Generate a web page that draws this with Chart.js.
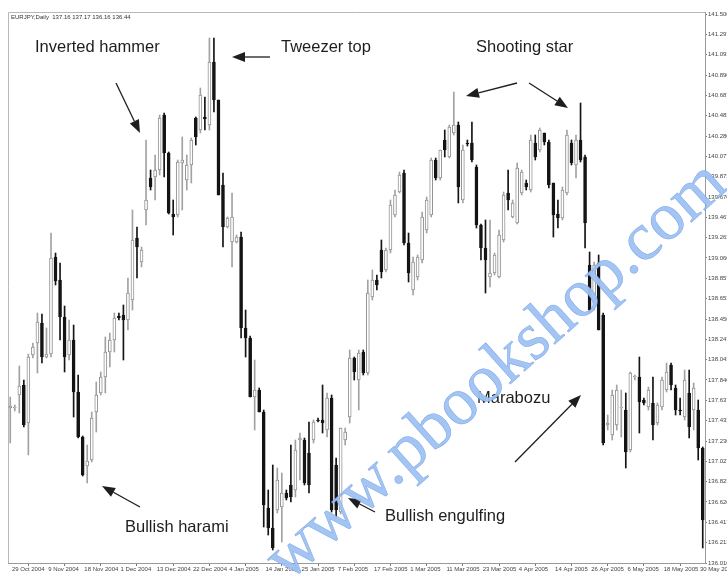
<!DOCTYPE html>
<html>
<head>
<meta charset="utf-8">
<script src="https://cdn.jsdelivr.net/npm/chart.js@4.4.1/dist/chart.umd.min.js"></script>
<style>
  html, body { margin: 0; padding: 0; background: #ffffff; }
  #wrap { width: 727px; height: 575px; position: relative; }
</style>
</head>
<body>
<div id="wrap"><canvas id="c" width="727" height="575"></canvas></div>
<script>
// EURJPY daily candles, 29 Oct 2004 - early June 2005
const symbolName = 'EURJPY,Daily';

const opens = [
  137.56,137.56,137.69,137.79,137.41,138.09,138.21,138.41,138.07,138.10,
  139.07,138.84,138.47,138.09,138.24,137.72,137.27,136.98,137.04,137.52,
  137.71,137.87,138.12,138.24,138.48,138.49,138.44,138.64,139.26,139.02,
  139.54,139.86,139.87,139.94,140.49,140.11,139.50,139.49,140.01,139.84,
  139.99,140.46,140.34,140.47,140.39,141.02,140.64,139.79,139.37,139.22,
  139.22,139.27,138.36,138.26,137.67,137.74,137.52,136.56,136.36,136.54,
  136.57,136.71,136.79,136.74,137.24,137.24,137.11,137.24,137.44,137.44,
  137.34,137.66,136.99,136.52,137.24,137.47,138.06,137.84,138.12,137.91,
  138.67,138.84,139.14,138.94,139.14,139.49,139.72,139.91,139.21,138.74,
  138.87,139.04,139.34,139.49,140.04,139.86,140.24,140.07,140.31,140.39,
  139.64,140.21,140.21,139.97,139.39,139.16,138.87,138.91,138.87,139.24,
  139.71,139.47,139.41,139.71,139.81,139.74,140.21,140.14,140.31,140.22,
  139.81,139.50,139.46,139.71,140.21,139.99,140.24,140.07,138.99,138.64,
  139.01,138.49,137.39,137.29,137.39,137.56,137.54,137.14,137.87,137.87,
  137.64,137.57,137.61,137.41,137.57,137.74,137.99,137.76,137.54,137.47,
  137.71,137.54,137.54,137.16
];

const highs = [
  137.67,137.59,137.98,137.84,138.10,138.21,138.51,138.50,138.36,139.31,
  139.11,139.01,138.58,138.44,138.39,137.89,137.28,137.19,137.52,137.82,
  137.92,138.27,138.31,138.51,138.51,138.59,138.86,139.54,139.37,139.17,
  140.24,139.94,140.09,140.49,140.51,140.12,139.64,140.04,140.27,140.09,
  140.26,140.47,140.76,140.67,141.26,141.26,140.64,139.91,139.47,139.71,
  139.29,139.32,138.54,138.28,138.04,137.76,137.54,136.74,136.99,136.96,
  136.91,136.74,137.19,137.24,137.31,137.26,137.42,137.44,137.46,137.79,
  137.71,137.69,137.06,137.36,137.36,138.14,138.07,138.14,138.14,138.84,
  138.94,138.89,139.24,139.16,139.64,139.74,139.92,139.94,139.31,139.07,
  139.09,139.52,139.67,140.06,140.06,140.14,140.34,140.39,140.72,140.42,
  140.19,140.24,140.42,139.99,139.40,139.44,139.44,139.11,139.34,139.72,
  139.94,139.64,140.01,139.94,139.84,140.29,140.29,140.36,140.31,140.24,
  139.81,139.64,139.77,140.34,140.24,140.29,140.61,140.09,139.12,139.02,
  139.09,138.51,137.49,137.74,137.79,137.74,137.71,137.92,137.89,138.07,
  137.66,137.77,137.87,137.61,137.87,138.01,138.01,137.79,137.66,137.94,
  137.94,137.81,137.64,137.17
];

const lows = [
  137.21,137.53,137.51,137.37,137.09,138.06,137.91,138.01,138.06,138.07,
  138.79,138.24,137.92,138.04,137.47,137.26,136.88,136.81,137.02,137.32,
  137.69,137.71,137.97,138.12,138.44,138.04,138.34,138.54,138.86,138.97,
  139.39,139.74,139.64,139.89,139.87,139.50,139.29,139.47,139.54,139.74,
  139.81,140.19,140.31,140.34,140.34,140.52,139.69,139.17,139.36,138.97,
  139.21,138.26,138.07,137.67,137.34,137.52,136.37,136.29,136.14,136.51,
  136.22,136.64,136.62,136.67,136.84,136.79,136.71,137.21,137.42,137.31,
  137.27,136.52,136.46,136.50,137.19,137.41,137.84,137.54,137.89,137.89,
  138.64,138.74,138.86,138.92,139.11,139.47,139.71,139.19,138.82,138.69,
  138.84,139.01,139.31,139.47,139.84,139.84,140.07,140.06,140.29,139.61,
  139.61,140.18,140.02,139.36,139.04,138.71,138.77,138.89,138.86,139.22,
  139.54,139.46,139.40,139.69,139.74,139.72,140.04,140.12,140.19,139.76,
  139.27,139.36,139.44,139.69,139.99,139.86,140.02,139.16,138.52,138.54,
  138.34,137.19,137.34,137.24,137.34,137.27,136.96,137.12,137.84,137.31,
  137.59,137.54,137.24,137.39,137.54,137.72,137.74,137.49,137.49,137.44,
  137.26,137.34,137.04,136.16
];

const closes = [
  137.58,137.57,137.78,137.39,138.07,138.17,138.42,138.07,138.10,139.06,
  138.83,138.47,138.07,138.24,137.72,137.27,136.89,137.03,137.46,137.69,
  137.87,138.12,138.24,138.46,138.46,138.44,138.71,139.24,139.17,139.14,
  139.64,139.77,139.94,140.46,140.11,139.51,139.47,140.02,140.04,139.99,
  140.24,140.27,140.69,140.45,141.02,140.64,139.69,139.37,139.46,139.47,
  139.27,138.36,138.26,137.67,137.74,137.52,136.59,136.36,136.16,136.84,
  136.71,136.66,136.67,137.14,137.26,136.81,136.79,137.42,137.43,137.41,
  137.66,136.54,136.54,137.36,137.32,138.06,137.92,138.11,137.91,138.71,
  138.84,138.79,138.92,139.14,139.59,139.69,139.89,139.21,138.91,139.02,
  139.07,139.47,139.64,140.04,139.86,140.14,140.14,140.37,140.39,139.77,
  140.14,140.20,140.04,139.39,139.16,139.04,138.91,139.09,139.29,139.69,
  139.64,139.61,139.96,139.92,139.77,140.24,140.07,140.34,140.22,139.79,
  139.49,139.46,139.74,140.29,140.01,140.24,140.04,139.41,138.54,138.99,
  138.34,137.21,137.41,137.69,137.74,137.57,137.12,137.91,137.88,137.62,
  137.61,137.74,137.39,137.59,137.84,137.92,137.79,137.54,137.53,137.84,
  137.37,137.76,137.16,136.44
];

// one date label every eight bars
const dateLabels = [
  '29 Oct 2004','9 Nov 2004','18 Nov 2004','1 Dec 2004','13 Dec 2004',
  '22 Dec 2004','4 Jan 2005','14 Jan 2005','25 Jan 2005','7 Feb 2005',
  '17 Feb 2005','1 Mar 2005','11 Mar 2005','23 Mar 2005','4 Apr 2005',
  '14 Apr 2005','26 Apr 2005','6 May 2005','18 May 2005','30 May 2005'
];
const dateEvery = 8;

const priceTicks = [
  141.500,141.297,141.093,140.890,140.687,140.483,140.280,140.077,139.873,139.670,
  139.467,139.263,139.060,138.857,138.653,138.450,138.247,138.043,137.840,137.637,
  137.433,137.230,137.027,136.823,136.620,136.417,136.213,136.010
];
const priceMin = 136.01;
const priceMax = 141.52;

// pattern captions and their pointers (canvas pixels)
const captions = [
  { text: 'Inverted hammer',   x: 35,  y: 47 },
  { text: 'Tweezer top',       x: 281, y: 47 },
  { text: 'Shooting star',     x: 476, y: 47 },
  { text: 'Marabozu',          x: 477, y: 398 },
  { text: 'Bullish harami',    x: 125, y: 527 },
  { text: 'Bullish engulfing', x: 385, y: 516 }
];
const pointers = [
  [116, 83, 140, 133],
  [270, 57, 232, 57],
  [517, 83, 466, 96],
  [529, 83, 568, 108],
  [515, 462, 581, 395],
  [140, 507, 102, 486],
  [375, 512, 348, 498]
];

const idx = opens.map((_, i) => i);
const isBull = i => closes[i] >= opens[i];

const frame = {
  id: 'frame',
  beforeDatasetsDraw(chart) {
    const { ctx, chartArea: a } = chart;
    ctx.save();
    ctx.strokeStyle = '#b8b8b8';
    ctx.lineWidth = 1;
    ctx.beginPath();
    ctx.moveTo(a.left + 0.5, a.bottom);
    ctx.lineTo(a.left + 0.5, a.top + 0.5);
    ctx.lineTo(a.right, a.top + 0.5);
    ctx.stroke();
    ctx.fillStyle = '#333';
    ctx.font = '6px "Liberation Sans", Arial, sans-serif';
    ctx.textBaseline = 'middle';
    const n = opens.length - 1;
    ctx.fillText(symbolName + '  ' + opens[n].toFixed(2) + ' ' + highs[n].toFixed(2) + ' ' +
                 lows[n].toFixed(2) + ' ' + closes[n].toFixed(2), a.left + 3, a.top + 5);
    ctx.restore();
  }
};

function drawArrow(ctx, x1, y1, x2, y2) {
  const ang = Math.atan2(y2 - y1, x2 - x1);
  const len = 13, half = 5;
  const bx = x2 - len * Math.cos(ang), by = y2 - len * Math.sin(ang);
  ctx.beginPath();
  ctx.moveTo(x1, y1);
  ctx.lineTo(bx, by);
  ctx.stroke();
  ctx.beginPath();
  ctx.moveTo(x2, y2);
  ctx.lineTo(bx + half * Math.sin(ang), by - half * Math.cos(ang));
  ctx.lineTo(bx - half * Math.sin(ang), by + half * Math.cos(ang));
  ctx.closePath();
  ctx.fill();
}

const notes = {
  id: 'notes',
  afterDraw(chart) {
    const ctx = chart.ctx;
    ctx.save();
    ctx.fillStyle = '#1e1e1e';
    ctx.strokeStyle = '#1e1e1e';
    ctx.lineWidth = 1.3;
    ctx.font = '16.5px "Liberation Sans", Arial, sans-serif';
    ctx.textBaseline = 'middle';
    captions.forEach(c => ctx.fillText(c.text, c.x, c.y));
    pointers.forEach(p => drawArrow(ctx, p[0], p[1], p[2], p[3]));
    ctx.restore();

    // site stamp across the chart
    ctx.save();
    ctx.translate(497, 372);
    ctx.rotate(-41.8 * Math.PI / 180);
    ctx.font = '68px "Liberation Serif", "Times New Roman", serif';
    ctx.textAlign = 'center';
    ctx.textBaseline = 'middle';
    ctx.fillStyle = 'rgba(158,194,243,0.95)';
    ctx.fillText('www.pbookshop.com', 0, 0);
    ctx.lineWidth = 0.5;
    ctx.strokeStyle = 'rgba(110,152,226,0.8)';
    ctx.strokeText('www.pbookshop.com', 0, 0);
    ctx.restore();
  }
};

new Chart(document.getElementById('c').getContext('2d'), {
  type: 'bar',
  data: {
    labels: idx,
    datasets: [
      {
        label: 'range',
        data: idx.map(i => [lows[i], highs[i]]),
        grouped: false,
        barThickness: 1,
        backgroundColor: idx.map(i => isBull(i) ? '#a2a2a2' : '#141414'),
        borderWidth: 0,
        order: 2
      },
      {
        label: 'body',
        data: idx.map(i => [opens[i], closes[i]]),
        grouped: false,
        barThickness: 3,
        minBarLength: 1,
        backgroundColor: idx.map(i => isBull(i) ? '#ffffff' : '#141414'),
        borderColor: idx.map(i => isBull(i) ? '#939393' : '#141414'),
        borderWidth: 1,
        borderSkipped: false,
        order: 1
      }
    ]
  },
  options: {
    responsive: false,
    animation: false,
    events: [],
    devicePixelRatio: 1,
    layout: { padding: { top: 12, left: 8, right: 0, bottom: 0 } },
    plugins: { legend: { display: false }, tooltip: { enabled: false }, title: { display: false } },
    scales: {
      x: {
        type: 'category',
        offset: true,
        grid: { display: true, drawOnChartArea: false, drawTicks: true, tickLength: 3, color: '#777' },
        border: { display: true, color: '#9a9a9a' },
        ticks: {
          autoSkip: false, maxRotation: 0, minRotation: 0, align: 'start', padding: 0,
          font: { size: 6, family: '"Liberation Sans", Arial, sans-serif' }, color: '#444',
          callback: v => ' ' + dateLabels[v / dateEvery]
        },
        afterBuildTicks: s => { s.ticks = s.ticks.filter(t => t.value % dateEvery === 0); },
        afterFit: s => { s.height = 12; s.paddingLeft = 0; s.paddingRight = 0; }
      },
      y: {
        position: 'right',
        min: priceMin,
        max: priceMax,
        grid: { display: true, drawOnChartArea: false, drawTicks: true, tickLength: 2, color: '#777' },
        border: { display: true, color: '#9a9a9a' },
        ticks: {
          padding: 1,
          font: { size: 6, family: '"Liberation Sans", Arial, sans-serif' }, color: '#444',
          callback: v => Number(v).toFixed(3)
        },
        afterBuildTicks: s => { s.ticks = priceTicks.map(v => ({ value: v })); },
        afterFit: s => { s.width = 22; s.paddingTop = 0; s.paddingBottom = 0; }
      }
    }
  },
  plugins: [frame, notes]
});
</script>
</body>
</html>
